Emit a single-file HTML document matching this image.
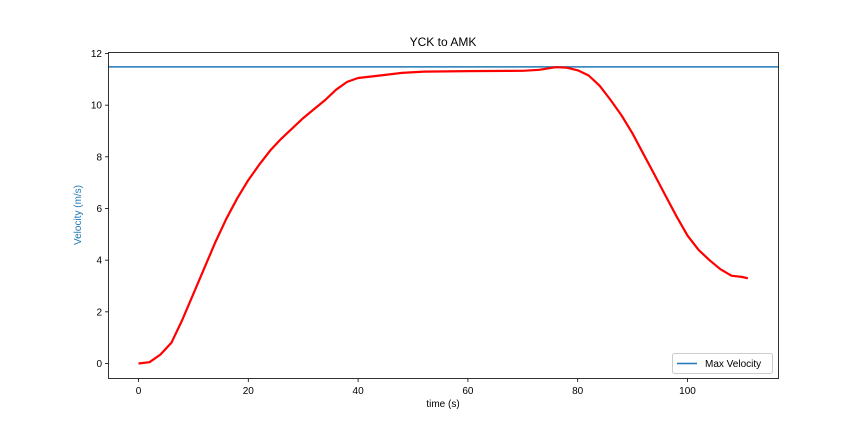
<!DOCTYPE html>
<html><head><meta charset="utf-8"><style>
body{margin:0;background:#fff;}
svg{display:block;font-family:"Liberation Sans","DejaVu Sans",sans-serif;}
</style></head><body>
<svg id="chart" width="864" height="432">
<rect x="0" y="0" width="864" height="432" fill="#fff"/>
<text x="443" y="46" text-anchor="middle" font-size="12">YCK to AMK</text>
<g id="ticks"></g>
<g id="marks"></g>
<rect x="108.5" y="52.5" width="670" height="326" fill="none" stroke="#000" stroke-width="0.8"/>
<text x="443" y="407" text-anchor="middle" font-size="10">time (s)</text>
<text transform="translate(81,215) rotate(-90)" text-anchor="middle" font-size="10" fill="#1f77b4">Velocity (m/s)</text>
<g>
<rect x="672.5" y="353.5" width="100" height="20" rx="2" fill="#fff" stroke="#ccc"/>
<line x1="677" y1="363.5" x2="697" y2="363.5" stroke="#1f77b4" stroke-width="1.5"/>
<text x="705" y="367" font-size="10">Max Velocity</text>
</g>
</svg>
<script>
const times=[0,2,4,6,8,10,12,14,16,18,20,22,24,26,28,30,32,34,36,38,40,44,48,52,60,70,73,76,78,80,82,84,86,88,90,92,94,96,98,100,102,104,106,108,110,111];
const velocities=[0,0.05,0.35,0.8,1.7,2.7,3.7,4.7,5.6,6.4,7.1,7.7,8.25,8.7,9.1,9.5,9.85,10.2,10.6,10.9,11.05,11.15,11.25,11.3,11.32,11.33,11.37,11.47,11.45,11.35,11.15,10.75,10.2,9.6,8.9,8.1,7.3,6.5,5.7,4.95,4.4,4.0,3.65,3.4,3.35,3.3];
const maxVelocity=[11.48];
const xTicks=[0,20,40,60,80,100];
const yTicks=[0,2,4,6,8,10,12];
const NS="http://www.w3.org/2000/svg";
function xs(t){return 138.5+(t-0)*(687.5-138.5)/100;}
function ys(v){return 363.5-v*(363.5-53.5)/12;}
const tk=document.getElementById('ticks'), mk=document.getElementById('marks');
function mkEl(tag,attrs,parent){const e=document.createElementNS(NS,tag);for(const k in attrs)e.setAttribute(k,attrs[k]);parent.appendChild(e);return e;}
xTicks.forEach(t=>{
  const l=mkEl('line',{x1:xs(t),x2:xs(t),y1:378.5,y2:382,stroke:'#000','stroke-width':0.8},tk);
  
  
  const s=mkEl('text',{x:xs(t),y:394,'text-anchor':'middle','font-size':10},tk);s.textContent=t;
  
  
});
yTicks.forEach(v=>{
  const l=mkEl('line',{x1:105,x2:108.5,y1:ys(v),y2:ys(v),stroke:'#000','stroke-width':0.8},tk);
  
  
  const s=mkEl('text',{x:102,y:ys(v)+3.5,'text-anchor':'end','font-size':10},tk);s.textContent=v;
  
  
});
const ml=mkEl('line',{x1:108.5,x2:778.5,y1:ys(maxVelocity[0]),y2:ys(maxVelocity[0]),stroke:'#1f77b4','stroke-width':1.5},mk);


const d=times.map((t,i)=>(i?'L':'M')+xs(t).toFixed(1)+','+ys(velocities[i]).toFixed(1)).join(' ');
const p=mkEl('path',{d:d,fill:'none',stroke:'#ff0000','stroke-width':2.2,'stroke-linejoin':'round'},mk);


</script>
</body></html>
